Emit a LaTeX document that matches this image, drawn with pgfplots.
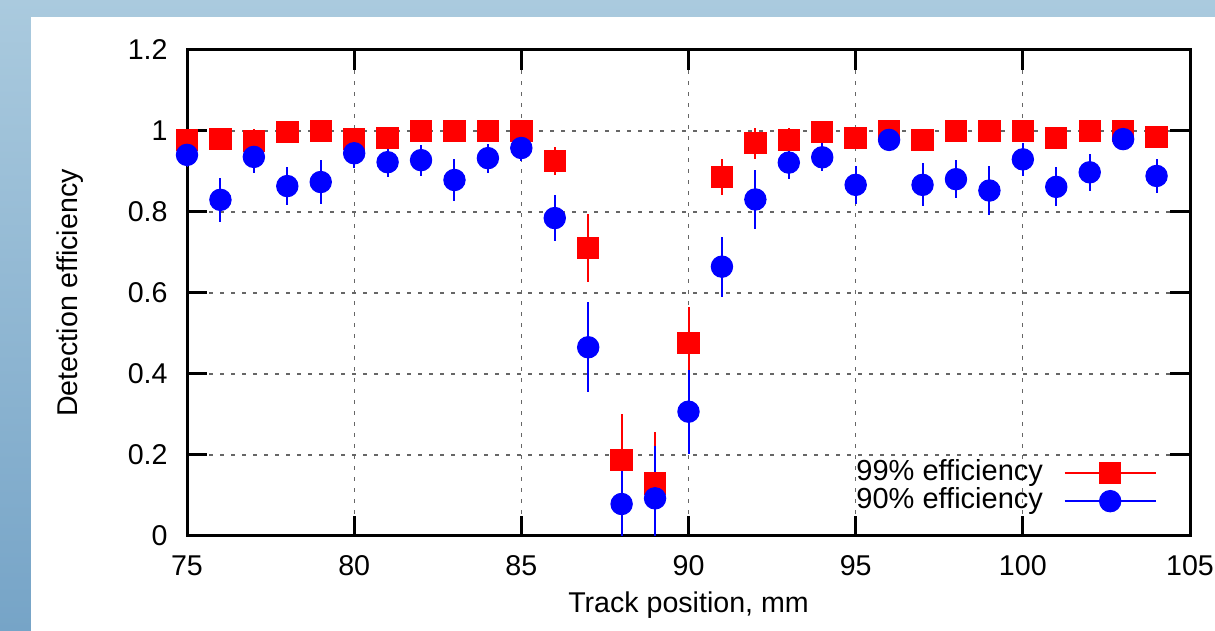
\documentclass[border=0pt]{standalone}
\usepackage{pgfplots}
\pgfplotsset{compat=1.18}
\usepackage{pgfplotstable}
\usepackage{fontspec}
\setmainfont{Liberation Sans}
\definecolor{bgtop}{RGB}{170,202,222}
\definecolor{bgbot}{RGB}{118,164,199}

\pgfplotsset{
  linemarkleg/.style={legend image code/.code={\draw[#1, line width=0.8pt] (0pt,0pt) -- (45.5pt,0pt);
     \draw[##1] plot coordinates {(22.75pt,0pt)};}}
}

\pgfplotstableread{
x y e
75 0.978 0.02
76 0.980 0.02
77 0.976 0.03
78 0.998 0.02
79 1.000 0.02
80 0.980 0.02
81 0.983 0.02
82 1.000 0.02
83 1.000 0.02
84 1.000 0.02
85 1.000 0.02
86 0.926 0.035
87 0.711 0.084
88 0.188 0.114
89 0.130 0.127
90 0.477 0.089
91 0.887 0.044
92 0.970 0.038
93 0.978 0.03
94 0.998 0.02
95 0.983 0.02
96 1.000 0.02
97 0.978 0.02
98 1.000 0.02
99 1.000 0.02
100 1.000 0.02
101 0.982 0.02
102 1.000 0.02
103 1.000 0.02
104 0.985 0.02
}\redtab

\pgfplotstableread{
x y e
75 0.941 0.03
76 0.830 0.054
77 0.936 0.04
78 0.864 0.046
79 0.874 0.055
80 0.945 0.036
81 0.923 0.036
82 0.928 0.038
83 0.879 0.052
84 0.933 0.036
85 0.958 0.033
86 0.785 0.057
87 0.466 0.111
88 0.079 0.119
89 0.093 0.129
90 0.307 0.104
91 0.665 0.074
92 0.831 0.072
93 0.922 0.04
94 0.935 0.035
95 0.867 0.047
96 0.978 0.02
97 0.867 0.053
98 0.881 0.047
99 0.853 0.06
100 0.930 0.04
101 0.862 0.048
102 0.898 0.046
103 0.980 0.02
104 0.889 0.041
}\bluetab

\begin{document}
\begin{tikzpicture}
\clip (0,0) rectangle (607.5pt,315.5pt);
\shade[top color=bgtop, bottom color=bgbot] (0,0) rectangle (607.5pt,315.5pt);
\fill[white] (15.5pt,0) rectangle (607.5pt,307pt);
\begin{axis}[
  at={(93.5pt,47.5pt)}, anchor=south west,
  scale only axis, width=501.5pt, height=243pt,
  xmin=75, xmax=105, ymin=0, ymax=1.2,
  xtick={75,80,...,105}, ytick={0,0.2,...,1.2},
  /pgf/number format/assume math mode=true,
  tick label style={font=\fontsize{14.3}{17}\selectfont, inner sep=0pt},
  xticklabel style={anchor=north, yshift=-9.5pt},
  yticklabel style={anchor=east, xshift=-9.5pt},
  label style={font=\fontsize{14.3}{17}\selectfont},
  xlabel={Track position, mm},
  ylabel={Detection efficiency},
  xlabel style={at={(axis description cs:0.5,-0.142)}, anchor=center},
  ylabel style={at={(axis description cs:-0.1166,0.5)}, anchor=center},
  tick align=inside, major tick length=10pt,
  tick style={line width=1.5pt, black},
  axis line style={line width=1.5pt},
  grid=major,
  major grid style={dash pattern=on 2pt off 3.5pt, gray!80!black, line width=0.6pt},
  legend plot pos=right,
  legend cell align=right,
  legend style={draw=none, fill=none, at={(axis description cs:0.967,0.042)}, anchor=south east,
    font=\fontsize{14.5}{17}\selectfont, row sep=0pt, inner sep=0pt,
    nodes={inner sep=0pt, text height=10.5pt, text depth=3.5pt},
    /tikz/every odd column/.append style={column sep=10.5pt}},
]
\addplot[red, only marks, mark=square*, mark size=5.35pt, mark options={line width=0.5pt},
  linemarkleg=red,
  error bars/.cd, y dir=both, y explicit, error mark=none,
  error bar style={line width=1pt, red}]
  table[x=x, y=y, y error=e] {\redtab};
\addlegendentry{99\% efficiency}
\addplot[blue, only marks, mark=*, mark size=5.35pt, mark options={line width=0.5pt},
  linemarkleg=blue,
  error bars/.cd, y dir=both, y explicit, error mark=none,
  error bar style={line width=1pt, blue}]
  table[x=x, y=y, y error=e] {\bluetab};
\addlegendentry{90\% efficiency}
\end{axis}
\end{tikzpicture}
\end{document}
